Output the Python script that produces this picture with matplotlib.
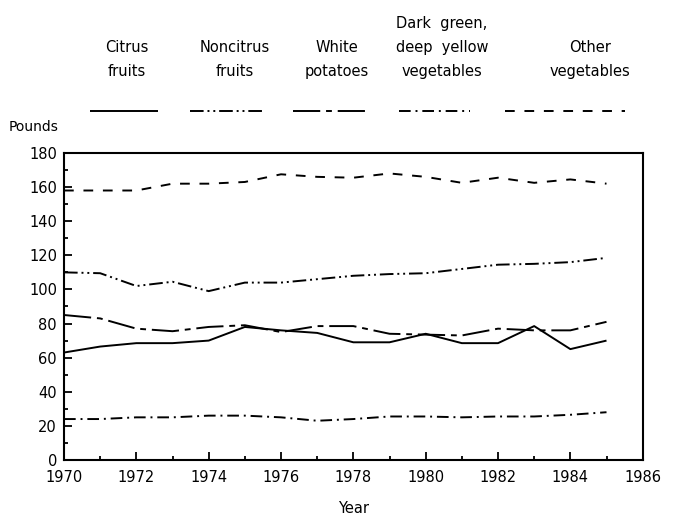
import numpy as np
import matplotlib
matplotlib.use("Agg")
import matplotlib.pyplot as plt

years = np.arange(1970, 1986)

citrus = [63, 66.5, 68.5, 68.5, 70, 78, 76, 74.5, 69, 69, 74, 68.5, 68.5, 78.5, 65, 70]
noncitrus = [110, 109.5, 102, 104.5, 99, 104, 104, 106, 108, 109, 109.5, 112, 114.5, 115, 116, 118.5]
potatoes = [85, 83, 77, 75.5, 78, 79, 75, 78.5, 78.5, 74, 73.5, 73, 77, 76, 76, 81]
dark_green = [24, 24, 25, 25, 26, 26, 25, 23, 24, 25.5, 25.5, 25, 25.5, 25.5, 26.5, 28]
other_veg = [158, 158, 158, 162, 162, 163, 167.5, 166, 165.5, 168, 166, 162.5, 165.5, 162.5, 164.5, 162]

labels = ["Citrus\nfruits", "Noncitrus\nfruits", "White\npotatoes",
          "Dark  green,\ndeep  yellow\nvegetables", "Other\nvegetables"]
series = [citrus, noncitrus, potatoes, dark_green, other_veg]

# line styles: solid, dash-dot-dot, long dash, dash-dot, dashed
styles = [
    (0, ()),
    (0, (7, 2, 1, 2, 1, 2)),
    (0, (14, 3, 3, 3)),
    (0, (6, 2.5, 1, 2.5)),
    (0, (5, 5)),
]

plt.rcParams["font.family"] = "DejaVu Sans"
plt.rcParams["font.size"] = 10

fig = plt.figure(figsize=(6.76, 5.23), dpi=100)
ax = fig.add_axes([0.0947, 0.1205, 0.856, 0.587])

for vals, ls in zip(series, styles):
    ax.plot(years, vals, color="black", lw=1.4, linestyle=ls)

ax.set_xlim(1970, 1986)
ax.set_ylim(0, 180)
ax.set_xticks(np.arange(1970, 1987, 2))
ax.set_xticks(np.arange(1971, 1986, 2), minor=True)
ax.set_yticks(np.arange(0, 181, 20))
ax.set_yticks(np.arange(10, 180, 20), minor=True)
ax.tick_params(which="both", direction="in", width=1.3, color="black")
ax.tick_params(which="major", length=6, labelsize=10.5)
ax.tick_params(which="minor", length=3)
ax.tick_params(axis="y", pad=5)
ax.tick_params(axis="x", pad=7)
for s in ax.spines.values():
    s.set_linewidth(1.5)

ax.set_xlabel("Year", fontsize=10.5, labelpad=12)
fig.text(0.013, 0.757, "Pounds", fontsize=10, ha="left", va="center")

# legend: text above short line samples
lax = fig.add_axes([0, 0.75, 1, 0.25])
lax.set_xlim(0, 676)
lax.set_ylim(0, 130.75)
lax.axis("off")
sample_x = [(90, 158), (190, 262), (293, 367), (399, 470), (505, 625)]
text_x = [127, 235, 337, 442, 590]
for lab, ls, (x0, x1), tx in zip(labels, styles, sample_x, text_x):
    lax.plot([x0, x1], [20, 20], color="black", lw=1.4, linestyle=ls)
    lax.text(tx, 52, lab, ha="center", va="bottom", fontsize=10.5,
             linespacing=1.75)

fig.savefig("out.png", dpi=100)
